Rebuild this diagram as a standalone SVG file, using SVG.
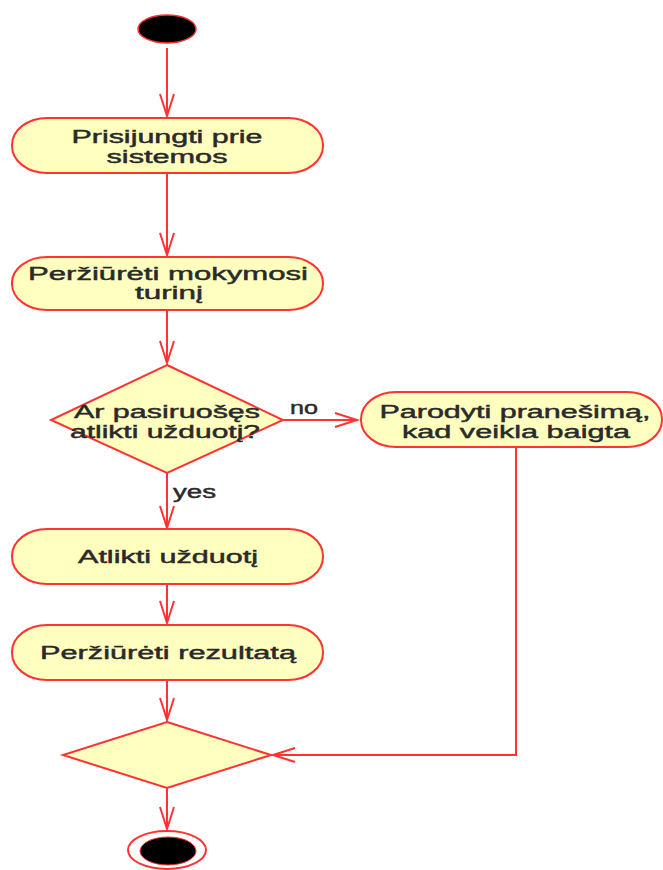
<svg xmlns="http://www.w3.org/2000/svg" width="663" height="870" viewBox="0 0 663 870">
<defs>
<style>
.node{fill:#ffffc0;stroke:#ff3333;stroke-width:2}
.t{font-family:"Liberation Sans",Arial,sans-serif;font-size:18px;fill:#2a2a2a;stroke:#2a2a2a;stroke-width:0.45;text-anchor:middle}
.lbl{font-family:"Liberation Sans",Arial,sans-serif;font-size:18px;fill:#2a2a2a;stroke:#2a2a2a;stroke-width:0.45}
.edge{fill:none;stroke:#ff3333;stroke-width:2}
</style>
<marker id="arr" markerWidth="30" markerHeight="20" refX="24" refY="8" orient="auto" markerUnits="userSpaceOnUse">
<path d="M2,1 L24,8 L2,15" fill="none" stroke="#ff3333" stroke-width="2"/>
</marker>
</defs>
<rect width="663" height="870" fill="#ffffff"/>
<g id="edges">
<path class="edge" d="M167,48 L167,116" marker-end="url(#arr)"/>
<path class="edge" d="M167,173 L167,255" marker-end="url(#arr)"/>
<path class="edge" d="M167,310 L167,363" marker-end="url(#arr)"/>
<path class="edge" d="M283,420 L357,420" marker-end="url(#arr)"/>
<path class="edge" d="M167,473 L167,528" marker-end="url(#arr)"/>
<path class="edge" d="M167,584 L167,623" marker-end="url(#arr)"/>
<path class="edge" d="M167,680 L167,720" marker-end="url(#arr)"/>
<path class="edge" d="M516,447 L516,755 L273,755" marker-end="url(#arr)"/>
<path class="edge" d="M167,788 L167,829" marker-end="url(#arr)"/>
<text class="lbl" x="290" y="414" textLength="28" lengthAdjust="spacingAndGlyphs">no</text>
<text class="lbl" x="173" y="498" textLength="43" lengthAdjust="spacingAndGlyphs">yes</text>
</g>
<g id="start">
<ellipse cx="167" cy="29" rx="29" ry="14" fill="#000000" stroke="#ff3333" stroke-width="1.5"/>
</g>
<g id="prisijungti">
<rect class="node" x="12" y="118" width="311" height="55" rx="35" ry="27"/>
<text class="t" x="167" y="143" textLength="191" lengthAdjust="spacingAndGlyphs">Prisijungti prie</text>
<text class="t" x="167" y="163" textLength="121" lengthAdjust="spacingAndGlyphs">sistemos</text>
</g>
<g id="perziureti-turini">
<rect class="node" x="12" y="257" width="311" height="53" rx="35" ry="26"/>
<text class="t" x="168" y="280" textLength="280" lengthAdjust="spacingAndGlyphs">Peržiūrėti mokymosi</text>
<text class="t" x="169" y="299" textLength="68" lengthAdjust="spacingAndGlyphs">turinį</text>
</g>
<g id="decision">
<polygon class="node" points="167,365 283,420 167,473 51,420"/>
<text class="t" x="167" y="418" textLength="186" lengthAdjust="spacingAndGlyphs">Ar pasiruošęs</text>
<text class="t" x="165" y="438" textLength="190" lengthAdjust="spacingAndGlyphs">atlikti užduotį?</text>
</g>
<g id="parodyti">
<rect class="node" x="361" y="392" width="301" height="55" rx="35" ry="27"/>
<text class="t" x="515" y="418" textLength="271" lengthAdjust="spacingAndGlyphs">Parodyti pranešimą,</text>
<text class="t" x="516" y="438" textLength="228" lengthAdjust="spacingAndGlyphs">kad veikla baigta</text>
</g>
<g id="atlikti">
<rect class="node" x="12" y="529" width="311" height="55" rx="35" ry="27"/>
<text class="t" x="168" y="563" textLength="180" lengthAdjust="spacingAndGlyphs">Atlikti užduotį</text>
</g>
<g id="rezultatas">
<rect class="node" x="12" y="625" width="311" height="55" rx="35" ry="27"/>
<text class="t" x="168" y="659" textLength="256" lengthAdjust="spacingAndGlyphs">Peržiūrėti rezultatą</text>
</g>
<g id="merge">
<polygon class="node" points="167,722 271,755 167,788 63,755"/>
</g>
<g id="end">
<ellipse cx="167" cy="850" rx="39" ry="19" fill="#ffffff" stroke="#ff3333" stroke-width="2"/>
<ellipse cx="168" cy="851" rx="28" ry="14" fill="#000000" stroke="#ff3333" stroke-width="1"/>
</g>
</svg>
